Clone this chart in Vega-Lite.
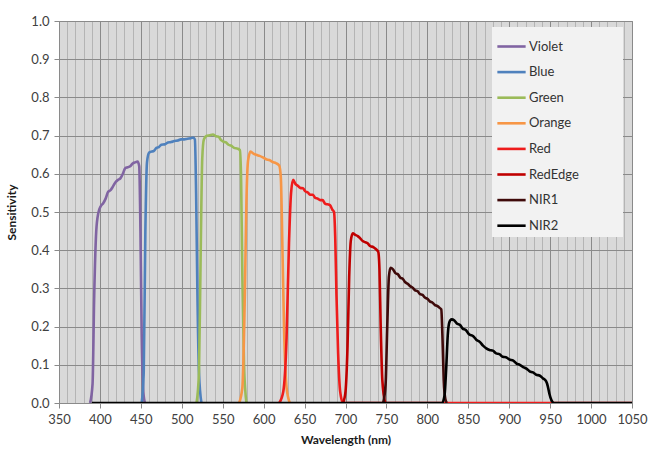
{
  "$schema": "https://vega.github.io/schema/vega-lite/v6.json",
  "autosize": "none",
  "width": 573,
  "height": 382,
  "padding": {"left": 59, "top": 21, "right": 19, "bottom": 49},
  "background": "#ffffff",
  "config": {
    "font": "Lato",
    "view": {"fill": "#d9d9d9", "stroke": "#8a8a8a"},
    "axis": {"labelFont": "Lato", "titleFont": "Lato", "labelColor": "#404040", "titleColor": "#1a1a1a", "labelFontSize": 13, "titleFontSize": 12, "titleFontWeight": "bold"}
  },
  "data": {"values": [
    {"band": "Violet", "wl": 388, "s": 0},
    {"band": "Violet", "wl": 391, "s": 0.05},
    {"band": "Violet", "wl": 393, "s": 0.28},
    {"band": "Violet", "wl": 395.5, "s": 0.45},
    {"band": "Violet", "wl": 398, "s": 0.497},
    {"band": "Violet", "wl": 401, "s": 0.515},
    {"band": "Violet", "wl": 404, "s": 0.523},
    {"band": "Violet", "wl": 407, "s": 0.535},
    {"band": "Violet", "wl": 410, "s": 0.553},
    {"band": "Violet", "wl": 413, "s": 0.557},
    {"band": "Violet", "wl": 416, "s": 0.567},
    {"band": "Violet", "wl": 419, "s": 0.578},
    {"band": "Violet", "wl": 422, "s": 0.584},
    {"band": "Violet", "wl": 425, "s": 0.588},
    {"band": "Violet", "wl": 428, "s": 0.6},
    {"band": "Violet", "wl": 431, "s": 0.615},
    {"band": "Violet", "wl": 434, "s": 0.617},
    {"band": "Violet", "wl": 437, "s": 0.62},
    {"band": "Violet", "wl": 440, "s": 0.627},
    {"band": "Violet", "wl": 443, "s": 0.63},
    {"band": "Violet", "wl": 446, "s": 0.632},
    {"band": "Violet", "wl": 448, "s": 0.62},
    {"band": "Violet", "wl": 449.5, "s": 0.45},
    {"band": "Violet", "wl": 451, "s": 0.18},
    {"band": "Violet", "wl": 453, "s": 0.03},
    {"band": "Violet", "wl": 455, "s": 0},

    {"band": "Blue", "wl": 451, "s": 0},
    {"band": "Blue", "wl": 453.5, "s": 0.08},
    {"band": "Blue", "wl": 455.5, "s": 0.45},
    {"band": "Blue", "wl": 457.5, "s": 0.63},
    {"band": "Blue", "wl": 460, "s": 0.655},
    {"band": "Blue", "wl": 463, "s": 0.658},
    {"band": "Blue", "wl": 466, "s": 0.66},
    {"band": "Blue", "wl": 469, "s": 0.668},
    {"band": "Blue", "wl": 472, "s": 0.67},
    {"band": "Blue", "wl": 475, "s": 0.676},
    {"band": "Blue", "wl": 479, "s": 0.677},
    {"band": "Blue", "wl": 483, "s": 0.682},
    {"band": "Blue", "wl": 487, "s": 0.683},
    {"band": "Blue", "wl": 491, "s": 0.686},
    {"band": "Blue", "wl": 495, "s": 0.687},
    {"band": "Blue", "wl": 499, "s": 0.69},
    {"band": "Blue", "wl": 503, "s": 0.69},
    {"band": "Blue", "wl": 507, "s": 0.692},
    {"band": "Blue", "wl": 511, "s": 0.693},
    {"band": "Blue", "wl": 514, "s": 0.695},
    {"band": "Blue", "wl": 516, "s": 0.69},
    {"band": "Blue", "wl": 517.5, "s": 0.55},
    {"band": "Blue", "wl": 519, "s": 0.3},
    {"band": "Blue", "wl": 521, "s": 0.08},
    {"band": "Blue", "wl": 524, "s": 0},

    {"band": "Green", "wl": 518, "s": 0},
    {"band": "Green", "wl": 521, "s": 0.08},
    {"band": "Green", "wl": 523, "s": 0.38},
    {"band": "Green", "wl": 525, "s": 0.64},
    {"band": "Green", "wl": 527, "s": 0.69},
    {"band": "Green", "wl": 530, "s": 0.699},
    {"band": "Green", "wl": 534, "s": 0.701},
    {"band": "Green", "wl": 538, "s": 0.703},
    {"band": "Green", "wl": 542, "s": 0.698},
    {"band": "Green", "wl": 545, "s": 0.697},
    {"band": "Green", "wl": 548, "s": 0.688},
    {"band": "Green", "wl": 551, "s": 0.684},
    {"band": "Green", "wl": 554, "s": 0.682},
    {"band": "Green", "wl": 557, "s": 0.676},
    {"band": "Green", "wl": 560, "s": 0.674},
    {"band": "Green", "wl": 564, "s": 0.668},
    {"band": "Green", "wl": 568, "s": 0.666},
    {"band": "Green", "wl": 571, "s": 0.662},
    {"band": "Green", "wl": 572.5, "s": 0.58},
    {"band": "Green", "wl": 574, "s": 0.33},
    {"band": "Green", "wl": 576, "s": 0.1},
    {"band": "Green", "wl": 579, "s": 0},

    {"band": "Orange", "wl": 570, "s": 0},
    {"band": "Orange", "wl": 574, "s": 0.04},
    {"band": "Orange", "wl": 577, "s": 0.28},
    {"band": "Orange", "wl": 579, "s": 0.53},
    {"band": "Orange", "wl": 581, "s": 0.635},
    {"band": "Orange", "wl": 584, "s": 0.658},
    {"band": "Orange", "wl": 588, "s": 0.652},
    {"band": "Orange", "wl": 592, "s": 0.649},
    {"band": "Orange", "wl": 595, "s": 0.647},
    {"band": "Orange", "wl": 599, "s": 0.643},
    {"band": "Orange", "wl": 603, "s": 0.638},
    {"band": "Orange", "wl": 607, "s": 0.636},
    {"band": "Orange", "wl": 611, "s": 0.631},
    {"band": "Orange", "wl": 615, "s": 0.628},
    {"band": "Orange", "wl": 619, "s": 0.622},
    {"band": "Orange", "wl": 621, "s": 0.59},
    {"band": "Orange", "wl": 623, "s": 0.4},
    {"band": "Orange", "wl": 625, "s": 0.19},
    {"band": "Orange", "wl": 628, "s": 0.04},
    {"band": "Orange", "wl": 632, "s": 0},

    {"band": "Red", "wl": 619, "s": 0},
    {"band": "Red", "wl": 624, "s": 0.03},
    {"band": "Red", "wl": 628, "s": 0.17},
    {"band": "Red", "wl": 631, "s": 0.42},
    {"band": "Red", "wl": 633.5, "s": 0.55},
    {"band": "Red", "wl": 636, "s": 0.584},
    {"band": "Red", "wl": 639, "s": 0.573},
    {"band": "Red", "wl": 642, "s": 0.568},
    {"band": "Red", "wl": 645, "s": 0.563},
    {"band": "Red", "wl": 648, "s": 0.562},
    {"band": "Red", "wl": 651, "s": 0.554},
    {"band": "Red", "wl": 654, "s": 0.551},
    {"band": "Red", "wl": 657, "s": 0.545},
    {"band": "Red", "wl": 660, "s": 0.545},
    {"band": "Red", "wl": 663, "s": 0.537},
    {"band": "Red", "wl": 666, "s": 0.535},
    {"band": "Red", "wl": 669, "s": 0.531},
    {"band": "Red", "wl": 672, "s": 0.531},
    {"band": "Red", "wl": 675, "s": 0.522},
    {"band": "Red", "wl": 678, "s": 0.52},
    {"band": "Red", "wl": 681, "s": 0.518},
    {"band": "Red", "wl": 684, "s": 0.506},
    {"band": "Red", "wl": 686, "s": 0.5},
    {"band": "Red", "wl": 687.5, "s": 0.43},
    {"band": "Red", "wl": 689, "s": 0.28},
    {"band": "Red", "wl": 691, "s": 0.13},
    {"band": "Red", "wl": 693.5, "s": 0.03},
    {"band": "Red", "wl": 697, "s": 0},
    {"band": "Red", "wl": 1050, "s": 0},

    {"band": "RedEdge", "wl": 697, "s": 0},
    {"band": "RedEdge", "wl": 700, "s": 0.03},
    {"band": "RedEdge", "wl": 702.5, "s": 0.15},
    {"band": "RedEdge", "wl": 704.5, "s": 0.33},
    {"band": "RedEdge", "wl": 706.5, "s": 0.425},
    {"band": "RedEdge", "wl": 709, "s": 0.444},
    {"band": "RedEdge", "wl": 712, "s": 0.44},
    {"band": "RedEdge", "wl": 715, "s": 0.437},
    {"band": "RedEdge", "wl": 718, "s": 0.431},
    {"band": "RedEdge", "wl": 721, "s": 0.424},
    {"band": "RedEdge", "wl": 724, "s": 0.421},
    {"band": "RedEdge", "wl": 727, "s": 0.418},
    {"band": "RedEdge", "wl": 730, "s": 0.411},
    {"band": "RedEdge", "wl": 734, "s": 0.408},
    {"band": "RedEdge", "wl": 737, "s": 0.403},
    {"band": "RedEdge", "wl": 740, "s": 0.396},
    {"band": "RedEdge", "wl": 741.5, "s": 0.35},
    {"band": "RedEdge", "wl": 743, "s": 0.2},
    {"band": "RedEdge", "wl": 745, "s": 0.06},
    {"band": "RedEdge", "wl": 748.5, "s": 0},

    {"band": "NIR1", "wl": 746, "s": 0},
    {"band": "NIR1", "wl": 749, "s": 0.05},
    {"band": "NIR1", "wl": 751, "s": 0.2},
    {"band": "NIR1", "wl": 753, "s": 0.33},
    {"band": "NIR1", "wl": 755, "s": 0.354},
    {"band": "NIR1", "wl": 758, "s": 0.35},
    {"band": "NIR1", "wl": 761, "s": 0.34},
    {"band": "NIR1", "wl": 764, "s": 0.337},
    {"band": "NIR1", "wl": 767, "s": 0.328},
    {"band": "NIR1", "wl": 770, "s": 0.325},
    {"band": "NIR1", "wl": 773, "s": 0.316},
    {"band": "NIR1", "wl": 776, "s": 0.312},
    {"band": "NIR1", "wl": 779, "s": 0.306},
    {"band": "NIR1", "wl": 782, "s": 0.302},
    {"band": "NIR1", "wl": 785, "s": 0.295},
    {"band": "NIR1", "wl": 788, "s": 0.293},
    {"band": "NIR1", "wl": 791, "s": 0.285},
    {"band": "NIR1", "wl": 794, "s": 0.283},
    {"band": "NIR1", "wl": 797, "s": 0.276},
    {"band": "NIR1", "wl": 800, "s": 0.273},
    {"band": "NIR1", "wl": 803, "s": 0.266},
    {"band": "NIR1", "wl": 806, "s": 0.263},
    {"band": "NIR1", "wl": 809, "s": 0.257},
    {"band": "NIR1", "wl": 812, "s": 0.254},
    {"band": "NIR1", "wl": 815, "s": 0.249},
    {"band": "NIR1", "wl": 817, "s": 0.245},
    {"band": "NIR1", "wl": 818.5, "s": 0.17},
    {"band": "NIR1", "wl": 820, "s": 0.06},
    {"band": "NIR1", "wl": 822, "s": 0.01},
    {"band": "NIR1", "wl": 824, "s": 0},

    {"band": "NIR2", "wl": 390, "s": 0},
    {"band": "NIR2", "wl": 818, "s": 0},
    {"band": "NIR2", "wl": 821, "s": 0.02},
    {"band": "NIR2", "wl": 823, "s": 0.09},
    {"band": "NIR2", "wl": 825, "s": 0.18},
    {"band": "NIR2", "wl": 827, "s": 0.212},
    {"band": "NIR2", "wl": 829.5, "s": 0.219},
    {"band": "NIR2", "wl": 833, "s": 0.216},
    {"band": "NIR2", "wl": 836, "s": 0.208},
    {"band": "NIR2", "wl": 840, "s": 0.204},
    {"band": "NIR2", "wl": 843, "s": 0.195},
    {"band": "NIR2", "wl": 847, "s": 0.191},
    {"band": "NIR2", "wl": 851, "s": 0.18},
    {"band": "NIR2", "wl": 856, "s": 0.175},
    {"band": "NIR2", "wl": 860, "s": 0.165},
    {"band": "NIR2", "wl": 864, "s": 0.16},
    {"band": "NIR2", "wl": 868, "s": 0.15},
    {"band": "NIR2", "wl": 872, "s": 0.143},
    {"band": "NIR2", "wl": 876, "s": 0.139},
    {"band": "NIR2", "wl": 880, "s": 0.137},
    {"band": "NIR2", "wl": 884, "s": 0.13},
    {"band": "NIR2", "wl": 888, "s": 0.128},
    {"band": "NIR2", "wl": 892, "s": 0.121},
    {"band": "NIR2", "wl": 896, "s": 0.12},
    {"band": "NIR2", "wl": 900, "s": 0.114},
    {"band": "NIR2", "wl": 905, "s": 0.111},
    {"band": "NIR2", "wl": 909, "s": 0.103},
    {"band": "NIR2", "wl": 913, "s": 0.1},
    {"band": "NIR2", "wl": 917, "s": 0.094},
    {"band": "NIR2", "wl": 921, "s": 0.09},
    {"band": "NIR2", "wl": 925, "s": 0.083},
    {"band": "NIR2", "wl": 929, "s": 0.08},
    {"band": "NIR2", "wl": 933, "s": 0.074},
    {"band": "NIR2", "wl": 937, "s": 0.072},
    {"band": "NIR2", "wl": 941, "s": 0.065},
    {"band": "NIR2", "wl": 945, "s": 0.057},
    {"band": "NIR2", "wl": 947, "s": 0.045},
    {"band": "NIR2", "wl": 949, "s": 0.025},
    {"band": "NIR2", "wl": 951.5, "s": 0.008},
    {"band": "NIR2", "wl": 955, "s": 0},
    {"band": "NIR2", "wl": 1050, "s": 0}
  ]},
  "mark": {"type": "line", "strokeWidth": 2.6, "interpolate": "monotone", "clip": true},
  "encoding": {
    "x": {
      "field": "wl", "type": "quantitative",
      "scale": {"domain": [350, 1050], "nice": false, "zero": false},
      "axis": {
        "title": "Wavelength (nm)",
        "values": [350,360,370,380,390,400,410,420,430,440,450,460,470,480,490,500,510,520,530,540,550,560,570,580,590,600,610,620,630,640,650,660,670,680,690,700,710,720,730,740,750,760,770,780,790,800,810,820,830,840,850,860,870,880,890,900,910,920,930,940,950,960,970,980,990,1000,1010,1020,1030,1040,1050],
        "format": "d",
        "labelExpr": "datum.value % 50 === 0 ? datum.label : ''",
        "labelOverlap": false,
        "labelFlush": false,
        "labelPadding": 5,
        "tickSize": 5,
        "tickColor": "#8a8a8a",
        "tickOpacity": {"condition": {"test": "datum.value % 50 === 0", "value": 1}, "value": 0},
        "domainColor": "#8a8a8a",
        "gridColor": {"condition": {"test": "datum.value % 50 === 0", "value": "#8a8a8a"}, "value": "#b4b4b4"},
        "gridWidth": 1,
        "titlePadding": 8
      }
    },
    "y": {
      "field": "s", "type": "quantitative",
      "scale": {"domain": [0, 1], "nice": false},
      "axis": {
        "title": "Sensitivity",
        "values": [0,0.1,0.2,0.3,0.4,0.5,0.6,0.7,0.8,0.9,1.0],
        "format": ".1f",
        "tickSize": 5,
        "tickColor": "#8a8a8a",
        "domainColor": "#8a8a8a",
        "gridColor": "#8a8a8a",
        "labelPadding": 5,
        "titlePadding": 12
      }
    },
    "color": {
      "field": "band", "type": "nominal",
      "scale": {
        "domain": ["Violet", "Blue", "Green", "Orange", "Red", "RedEdge", "NIR1", "NIR2"],
        "range": ["#8064a2", "#4f81bd", "#9bbb59", "#f79646", "#ee1c1c", "#c00000", "#3f0a0a", "#000000"]
      },
      "legend": {
        "title": null,
        "orient": "none",
        "legendX": 433,
        "legendY": 6,
        "fillColor": "#f2f2f2",
        "padding": 4,
        "symbolType": "stroke",
        "symbolSize": 800,
        "symbolStrokeWidth": 2.6,
        "labelFont": "Lato",
        "labelFontSize": 13,
        "labelColor": "#333333",
        "labelOffset": 2,
        "labelExpr": "datum.label + '\u2800\u2800\u2800\u2800'",
        "rowPadding": 2.6
      }
    }
  }
}
